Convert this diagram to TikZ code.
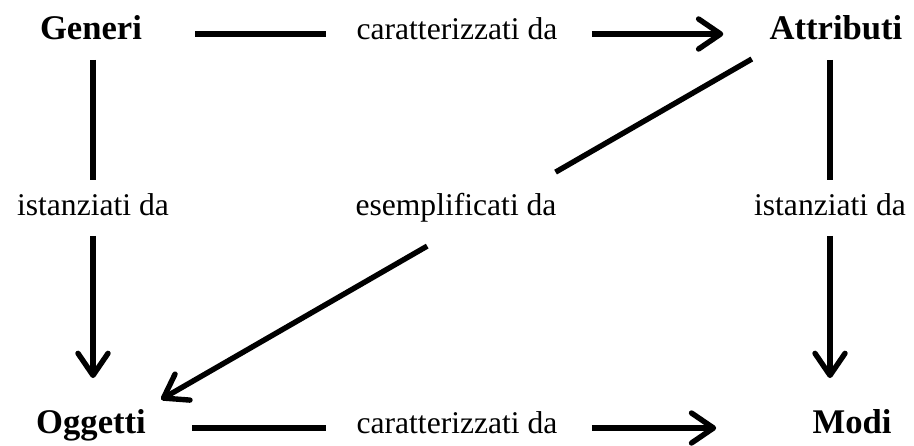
\documentclass[tikz,border=0pt]{standalone}
\usepackage{fontspec}
\setmainfont{Liberation Serif}
\usetikzlibrary{arrows.meta,positioning,calc}

\begin{document}
\begin{tikzpicture}[
    x=0.5pt, y=-0.5pt,
    >={Straight Barb[length=11pt,width=15pt,round]},
    concept/.style={font=\fontsize{17.3}{20}\selectfont\bfseries, inner sep=0pt,
      text height=0.74em, text depth=0.215em},
    relation/.style={font=\fontsize{15.8}{19}\selectfont, inner sep=0pt,
      text height=0.74em, text depth=0.215em},
    link/.style={line width=2.7pt}
  ]
  \useasboundingbox (0,0) rectangle (914,445);
  % Concepts
  \node[concept] (gen) at (91,34) {Generi};
  \node[concept] (attr) at (836,34) {Attributi};
  \node[concept] (ogg) at (91,428) {Oggetti};
  \node[concept] (modi) at (852,428) {Modi};
  % Relations
  \node[relation] (car1) at (457,34) {caratterizzati da};
  \node[relation] (car2) at (457,428) {caratterizzati da};
  \node[relation] (ist1) at (93,210) {istanziati da};
  \node[relation] (esemp) at (456,210) {esemplificati da};
  \node[relation] (ist2) at (830,210) {istanziati da};
  % Horizontal links
  \draw[link, shorten <=26.5pt, shorten >=15pt] (gen.east) -- (car1.west);
  \draw[link, ->, shorten <=17pt, shorten >=23pt] (car1.east) -- (attr.west);
  \draw[link, shorten <=23pt, shorten >=15pt] (ogg.east) -- (car2.west);
  \draw[link, ->, shorten <=17pt, shorten >=48pt] (car2.east) -- (modi.west);
  % Vertical links
  \draw[link, shorten <=8pt, shorten >=10pt] (ist1 |- gen.south) -- (ist1.north);
  \draw[link, ->, shorten <=8pt, shorten >=20pt] (ist1.south) -- (ist1 |- ogg.north);
  \draw[link, shorten <=8pt, shorten >=10pt] (ist2 |- attr.south) -- (ist2.north);
  \draw[link, ->, shorten <=8pt, shorten >=20pt] (ist2.south) -- (ist2 |- modi.north);
  % Diagonal link
  \path ([yshift=-2.5pt]attr.south west) -- coordinate[pos=0.028] (d1)
    coordinate[pos=0.343] (d2) coordinate[pos=0.549] (d3) coordinate[pos=0.976] (d4)
    ([yshift=5pt]ogg.north east);
  \draw[link] (d1) -- (d2);
  \draw[link, ->] (d3) -- (d4);
\end{tikzpicture}
\end{document}
